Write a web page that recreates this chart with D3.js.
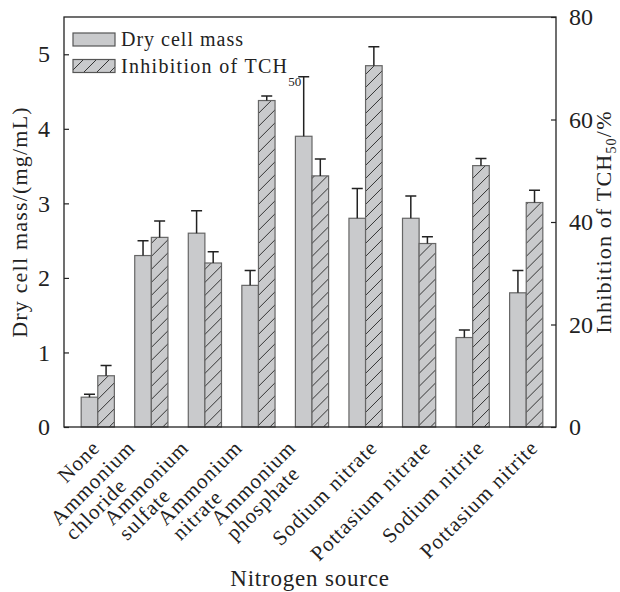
<!DOCTYPE html>
<html>
<head>
<meta charset="utf-8">
<script src="https://cdn.jsdelivr.net/npm/d3@7"></script>
<style>
  body { margin: 0; background: #fff; }
  svg text { font-family: "Liberation Serif", "Times New Roman", serif; fill: #222; }
</style>
</head>
<body>
<svg id="chart" width="620" height="592"></svg>
<script>
// categories (split into lines for the rotated labels)
const sources = ["None", "Ammonium chloride", "Ammonium sulfate", "Ammonium nitrate",
  "Ammonium phosphate", "Sodium nitrate", "Pottasium nitrate", "Sodium nitrite", "Pottasium nitrite"];
const sourceLines = [["None"], ["Ammonium", "chloride"], ["Ammonium", "sulfate"], ["Ammonium", "nitrate"],
  ["Ammonium", "phosphate"], ["Sodium nitrate"], ["Pottasium nitrate"], ["Sodium nitrite"], ["Pottasium nitrite"]];

// dry cell mass, mg/mL (left axis) and its error
const dryMass = [0.40, 2.30, 2.60, 1.90, 3.90, 2.80, 2.80, 1.20, 1.80];
const dryErr  = [0.04, 0.20, 0.30, 0.20, 0.80, 0.40, 0.30, 0.10, 0.30];

// inhibition of TCH50, % (right axis) and its error
const inhibition = [10.0, 37.0, 32.0, 63.7, 49.0, 70.5, 35.8, 51.0, 43.8];
const inhibErr   = [2.0, 3.2, 2.2, 0.9, 3.3, 3.7, 1.3, 1.4, 2.4];

const leftTicks = [0, 1, 2, 3, 4, 5];
const rightTicks = [0, 20, 40, 60, 80];

const svg = d3.select("#chart");
const plot = { left: 64, right: 556, top: 17, bottom: 427 };

const x = d3.scaleBand()
    .domain(sources)
    .range([71, 553])
    .paddingInner(0.38)
    .paddingOuter(0.19);

const xSub = d3.scaleBand()
    .domain(["dry", "inh"])
    .range([0, x.bandwidth()]);

const yLeft = d3.scaleLinear().domain([0, 5.5]).range([plot.bottom, plot.top]);
const yRight = d3.scaleLinear().domain([0, 80]).range([plot.bottom, plot.top]);

// hatch pattern
const defs = svg.append("defs");
const pat = defs.append("pattern")
    .attr("id", "hatch")
    .attr("patternUnits", "userSpaceOnUse")
    .attr("width", 13)
    .attr("height", 13);
pat.append("rect").attr("width", 13).attr("height", 13).attr("fill", "#c9cacc");
pat.append("path")
    .attr("d", "M-1,1 L1,-1 M0,13 L13,0 M12,14 L14,12")
    .attr("stroke", "#333")
    .attr("stroke-width", 1);

const fill = { dry: "#c9cacc", inh: "url(#hatch)" };

// bars
const groups = svg.append("g").selectAll("g")
    .data(sources)
    .join("g")
    .attr("transform", d => `translate(${x(d)},0)`);

groups.append("rect")
    .attr("x", xSub("dry"))
    .attr("width", xSub.bandwidth())
    .attr("y", (d, i) => yLeft(dryMass[i]))
    .attr("height", (d, i) => yLeft(0) - yLeft(dryMass[i]))
    .attr("fill", fill.dry)
    .attr("stroke", "#666")
    .attr("stroke-width", 1.2);

groups.append("rect")
    .attr("x", xSub("inh"))
    .attr("width", xSub.bandwidth())
    .attr("y", (d, i) => yRight(inhibition[i]))
    .attr("height", (d, i) => yRight(0) - yRight(inhibition[i]))
    .attr("fill", fill.inh)
    .attr("stroke", "#666")
    .attr("stroke-width", 1.2);

// error bars (upper only)
function errorBar(sel, cx, yTop, yErr) {
  sel.append("path")
    .attr("d", (d, i) => {
      const a = yTop(i), b = yErr(i);
      return `M${cx},${a}V${b}M${cx - 5.5},${b}H${cx + 5.5}`;
    })
    .attr("fill", "none")
    .attr("stroke", "#222")
    .attr("stroke-width", 1.5);
}
const hw = xSub.bandwidth() / 2;
errorBar(groups, xSub("dry") + hw, i => yLeft(dryMass[i]), i => yLeft(dryMass[i] + dryErr[i]));
errorBar(groups, xSub("inh") + hw, i => yRight(inhibition[i]), i => yRight(inhibition[i] + inhibErr[i]));

// frame
svg.append("rect")
    .attr("x", plot.left)
    .attr("y", plot.top)
    .attr("width", plot.right - plot.left)
    .attr("height", plot.bottom - plot.top)
    .attr("fill", "none")
    .attr("stroke", "#222")
    .attr("stroke-width", 1.3);

// axes
const axL = svg.append("g")
    .attr("transform", `translate(${plot.left},0)`)
    .call(d3.axisLeft(yLeft).tickValues(leftTicks).tickFormat(d3.format("d"))
      .tickSizeInner(-5).tickSizeOuter(0).tickPadding(14));
const axR = svg.append("g")
    .attr("transform", `translate(${plot.right},0)`)
    .call(d3.axisRight(yRight).tickValues(rightTicks).tickFormat(d3.format("d"))
      .tickSizeInner(-5).tickSizeOuter(0).tickPadding(13));
[axL, axR].forEach(ax => {
  ax.select(".domain").remove();
  ax.selectAll(".tick line").attr("stroke", "#222").attr("stroke-width", 1.2);
  ax.selectAll(".tick text")
    .attr("font-size", 24)
    .attr("fill", "#222");
});

// category labels
const labelSize = 21, labelSpacing = 1, lineGap = 21;
sourceLines.forEach((lines, i) => {
  const cx = x(sources[i]) + x.bandwidth() / 2;
  if (lines.length === 1) {
    const t = svg.append("text")
      .attr("text-anchor", "end")
      .attr("font-size", labelSize)
      .attr("letter-spacing", labelSpacing)
      .text(lines[0]);
    // short labels sit closer to the group centre
    const w = t.node().getComputedTextLength();
    const dx = Math.min(13, w * 0.25 - 9);
    t.attr("transform", `translate(${cx + dx},449) rotate(-45)`);
  } else {
    const g = svg.append("g").attr("transform", `translate(${cx - 15},449) rotate(-45)`);
    const first = g.append("text")
      .attr("text-anchor", "end")
      .attr("font-size", labelSize)
      .attr("letter-spacing", labelSpacing)
      .text(lines[0]);
    const w = first.node().getComputedTextLength();
    g.append("text")
      .attr("x", -w)
      .attr("y", lineGap)
      .attr("font-size", labelSize)
      .attr("letter-spacing", labelSpacing)
      .text(lines[1]);
  }
});

// axis titles
svg.append("text")
    .attr("x", 310)
    .attr("y", 586)
    .attr("text-anchor", "middle")
    .attr("font-size", 23)
    .attr("letter-spacing", 0.8)
    .text("Nitrogen source");

svg.append("text")
    .attr("transform", "translate(27,222) rotate(-90)")
    .attr("text-anchor", "middle")
    .attr("font-size", 22)
    .attr("letter-spacing", 1.2)
    .text("Dry cell mass/(mg/mL)");

const rt = svg.append("text")
    .attr("transform", "translate(611,222) rotate(-90)")
    .attr("text-anchor", "middle")
    .attr("font-size", 22)
    .attr("letter-spacing", 1.2);
rt.append("tspan").text("Inhibition of TCH");
rt.append("tspan").attr("font-size", 14).attr("dy", 5).text("50");
rt.append("tspan").attr("dy", -5).text("/%");

// legend
const legend = svg.append("g");
const legendItems = [
  { key: "dry", label: "Dry cell mass" },
  { key: "inh", label: "Inhibition of TCH" }
];
legendItems.forEach((item, i) => {
  const y0 = 33 + i * 26.5;
  legend.append("rect")
    .attr("x", 73)
    .attr("y", y0)
    .attr("width", 42)
    .attr("height", 13)
    .attr("fill", fill[item.key])
    .attr("stroke", "#555")
    .attr("stroke-width", 1.2);
  const t = legend.append("text")
    .attr("x", 121)
    .attr("y", y0 + 13)
    .attr("font-size", 20)
    .attr("letter-spacing", i === 0 ? 1 : 1.3);
  t.append("tspan").text(item.label);
  if (item.key === "inh") {
    t.append("tspan").attr("font-size", 13).attr("dy", 13).attr("letter-spacing", 0).text("50");
  }
});
</script>
</body>
</html>
